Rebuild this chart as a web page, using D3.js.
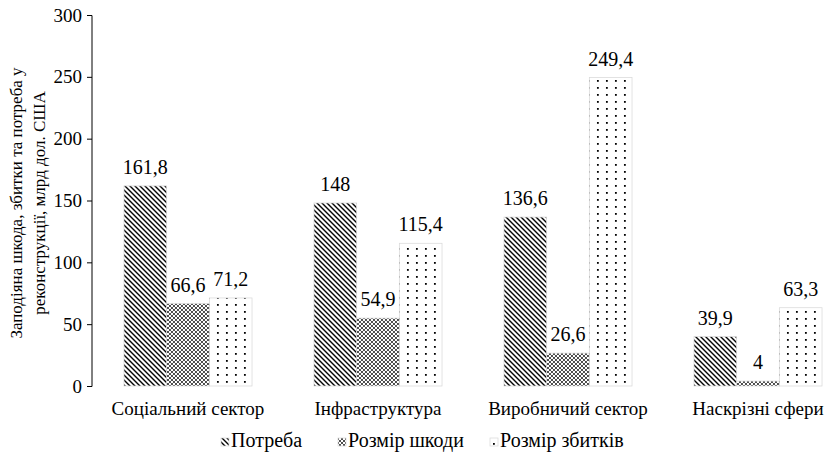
<!DOCTYPE html>
<html>
<head>
<meta charset="utf-8">
<script src="https://cdn.jsdelivr.net/npm/d3@7"></script>
<style>
  body { margin: 0; background: #fff; }
</style>
</head>
<body>
<div id="chart"></div>
<script>
// ========================
// Data
// ========================
const categories = ["Соціальний сектор", "Інфраструктура", "Виробничий сектор", "Наскрізні сфери"];
const seriesNames = ["Потреба", "Розмір шкоди", "Розмір збитків"];
const needValues = [161.8, 148, 136.6, 39.9];
const damageValues = [66.6, 54.9, 26.6, 4];
const lossValues = [71.2, 115.4, 249.4, 63.3];
const yTicks = [0, 50, 100, 150, 200, 250, 300];
const yTitle = ["Заподіяна шкода, збитки та потреба у", "реконструкції, млрд дол. США"];

const seriesValues = [needValues, damageValues, lossValues];
const patternIds = ["pNeed", "pDamage", "pLoss"];
const serif = "'Liberation Serif', 'Times New Roman', Times, serif";

// ========================
// Setup
// ========================
const width = 827, height = 460;
const svg = d3.select("#chart").append("svg")
    .attr("width", width)
    .attr("height", height)
    .style("font-family", serif);

const defs = svg.append("defs");

// diagonal lines (Потреба)
const p1 = defs.append("pattern").attr("id", "pNeed")
    .attr("patternUnits", "userSpaceOnUse").attr("width", 5).attr("height", 5);
p1.append("path")
    .attr("d", "M0,0 L5,5 M-1,4 L1,6 M4,-1 L6,1")
    .attr("stroke", "#000").attr("stroke-width", 1.4);

// small diamonds (Розмір шкоди)
const p2 = defs.append("pattern").attr("id", "pDamage")
    .attr("patternUnits", "userSpaceOnUse").attr("width", 4).attr("height", 4);
p2.append("path")
    .attr("d", "M0,0 L4,4 M4,0 L0,4")
    .attr("stroke", "#000").attr("stroke-width", 0.7);

// sparse dots (Розмір збитків)
const p3 = defs.append("pattern").attr("id", "pLoss")
    .attr("patternUnits", "userSpaceOnUse").attr("width", 9).attr("height", 7);
p3.append("rect").attr("x", 3).attr("y", 3).attr("width", 1.8).attr("height", 1.8).attr("fill", "#000");

// ========================
// Scales
// ========================
const y = d3.scaleLinear().domain([0, 300]).range([386, 15]);

// plot area runs past the right edge (picture was cropped)
const x0 = d3.scaleBand()
    .domain(categories)
    .range([93, 853])
    .paddingInner(0.326)
    .paddingOuter(0.163);

const x1 = d3.scaleBand()
    .domain(seriesNames)
    .range([0, x0.bandwidth()]);

// --- Y axis ---
const yAxis = svg.append("g")
    .attr("transform", "translate(92,0)")
    .call(d3.axisLeft(y).tickValues(yTicks).tickSize(5).tickPadding(5).tickFormat(d3.format("d")));
yAxis.attr("font-family", null).attr("font-size", null);
yAxis.select(".domain").attr("stroke", "#000").attr("d", "M-5,15.5H0V386.5H-5");
yAxis.selectAll(".tick line").attr("stroke", "#000");
yAxis.selectAll(".tick text")
    .attr("fill", "#000")
    .style("font-family", serif)
    .style("font-size", "19px");

// y title
const yt = svg.append("text")
    .attr("transform", "translate(0,203) rotate(-90)")
    .attr("text-anchor", "middle")
    .style("font-family", serif)
    .style("font-size", "17px");
yt.selectAll("tspan")
    .data(yTitle)
    .enter()
    .append("tspan")
    .attr("x", 0)
    .attr("y", (d, i) => 22 + i * 23)
    .text(d => d);

// --- Bars ---
const groups = svg.selectAll(".group")
    .data(categories)
    .enter()
    .append("g")
    .attr("transform", d => `translate(${x0(d)},0)`);

seriesNames.forEach((s, si) => {
    groups.append("rect")
        .attr("x", x1(s))
        .attr("y", (d, ci) => y(seriesValues[si][ci]))
        .attr("width", x1.bandwidth())
        .attr("height", (d, ci) => y(0) - y(seriesValues[si][ci]))
        .attr("fill", `url(#${patternIds[si]})`)
        .attr("stroke", "#d9d9d9")
        .attr("stroke-width", 0.75);

    groups.append("text")
        .attr("x", x1(s) + x1.bandwidth() / 2)
        .attr("y", (d, ci) => y(seriesValues[si][ci]) - 12)
        .attr("text-anchor", "middle")
        .style("font-family", serif)
        .style("font-size", "20px")
        .text((d, ci) => String(seriesValues[si][ci]).replace(".", ","));
});

// category labels
svg.selectAll(".cat-label")
    .data(categories)
    .enter()
    .append("text")
    .attr("class", "cat-label")
    .attr("x", d => x0(d) + x0.bandwidth() / 2)
    .attr("y", 415)
    .attr("text-anchor", "middle")
    .style("font-family", serif)
    .style("font-size", "19px")
    .text(d => d);

// --- Legend ---
const legendX = [221, 338, 490];
const legend = svg.selectAll(".legend")
    .data(seriesNames)
    .enter()
    .append("g")
    .attr("transform", (d, i) => `translate(${legendX[i]},447)`);
legend.append("rect")
    .attr("x", 0).attr("y", -9)
    .attr("width", 8).attr("height", 8)
    .attr("fill", (d, i) => `url(#${patternIds[i]})`)
    .attr("stroke", "#d9d9d9")
    .attr("stroke-width", 0.75);
legend.append("text")
    .attr("x", 10)
    .attr("y", 0)
    .style("font-family", serif)
    .style("font-size", "20px")
    .text(d => d);
</script>
</body>
</html>
